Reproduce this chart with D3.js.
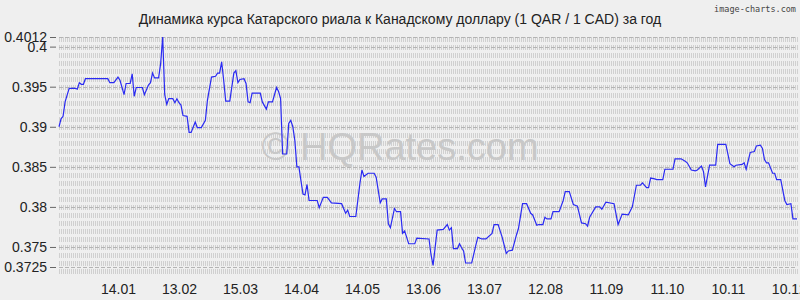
<!DOCTYPE html>
<html>
<head>
<meta charset="utf-8">
<script src="https://cdn.jsdelivr.net/npm/d3@7"></script>
<style>
  body { margin: 0; background: #efefef; }
  svg { display: block; }
</style>
</head>
<body>
<svg id="chart" width="800" height="300"></svg>
<script>
// QAR / CAD, one year
const dates = [
  '2024-12-16','2024-12-17','2024-12-18','2024-12-19','2024-12-21','2024-12-24','2024-12-25','2024-12-26','2024-12-27','2024-12-28',
  '2024-12-29','2025-01-09','2025-01-10','2025-01-12','2025-01-14','2025-01-15','2025-01-17','2025-01-18','2025-01-20','2025-01-21',
  '2025-01-22','2025-01-23','2025-01-26','2025-01-27','2025-01-29','2025-01-30','2025-01-31','2025-02-01','2025-02-03','2025-02-04',
  '2025-02-05','2025-02-06','2025-02-07','2025-02-08','2025-02-10','2025-02-11','2025-02-12','2025-02-13','2025-02-14','2025-02-15',
  '2025-02-17','2025-02-18','2025-02-19','2025-02-21','2025-02-22','2025-02-24','2025-02-26','2025-02-27','2025-03-01','2025-03-03',
  '2025-03-04','2025-03-05','2025-03-06','2025-03-07','2025-03-08','2025-03-10','2025-03-12','2025-03-13','2025-03-14','2025-03-15',
  '2025-03-17','2025-03-18','2025-03-19','2025-03-20','2025-03-21','2025-03-25','2025-03-26','2025-03-28','2025-03-29','2025-03-31',
  '2025-04-02','2025-04-03','2025-04-04','2025-04-05','2025-04-07','2025-04-08','2025-04-09','2025-04-10','2025-04-11','2025-04-12',
  '2025-04-13','2025-04-15','2025-04-16','2025-04-17','2025-04-18','2025-04-22','2025-04-23','2025-04-25','2025-04-27','2025-04-29',
  '2025-05-04','2025-05-06','2025-05-07','2025-05-08','2025-05-11','2025-05-13','2025-05-14','2025-05-15','2025-05-17','2025-05-20',
  '2025-05-21','2025-05-23','2025-05-24','2025-05-26','2025-05-27','2025-05-28','2025-05-30','2025-05-31','2025-06-02','2025-06-03',
  '2025-06-04','2025-06-06','2025-06-09','2025-06-10','2025-06-16','2025-06-17','2025-06-18','2025-06-20','2025-06-23','2025-06-25',
  '2025-06-26','2025-06-27','2025-06-28','2025-06-30','2025-07-01','2025-07-02','2025-07-03','2025-07-04','2025-07-07','2025-07-09',
  '2025-07-10','2025-07-12','2025-07-14','2025-07-17','2025-07-18','2025-07-20','2025-07-22','2025-07-24','2025-07-25','2025-07-27',
  '2025-07-29','2025-07-30','2025-08-01','2025-08-03','2025-08-05','2025-08-06','2025-08-08','2025-08-09','2025-08-11','2025-08-12',
  '2025-08-13','2025-08-15','2025-08-16','2025-08-19','2025-08-21','2025-08-22','2025-08-24','2025-08-26','2025-08-28','2025-08-30',
  '2025-09-01','2025-09-02','2025-09-03','2025-09-06','2025-09-08','2025-09-09','2025-09-11','2025-09-15','2025-09-17','2025-09-19',
  '2025-09-22','2025-09-24','2025-09-26','2025-09-28','2025-09-29','2025-10-01','2025-10-02','2025-10-03','2025-10-05','2025-10-06',
  '2025-10-09','2025-10-10','2025-10-14','2025-10-15','2025-10-18','2025-10-20','2025-10-21','2025-10-23','2025-10-25','2025-10-26',
  '2025-10-28','2025-10-29','2025-10-30','2025-11-01','2025-11-04','2025-11-05','2025-11-09','2025-11-11','2025-11-13','2025-11-14',
  '2025-11-17','2025-11-18','2025-11-19','2025-11-21','2025-11-23','2025-11-24','2025-11-26','2025-11-27','2025-11-28','2025-11-29',
  '2025-11-30','2025-12-02','2025-12-03','2025-12-04','2025-12-06','2025-12-08','2025-12-09','2025-12-11','2025-12-12','2025-12-14'
];
const rates = [
  0.3900,0.3910,0.3913,0.3931,0.3948,0.3948,0.3947,0.3955,0.3953,0.3953,
  0.3960,0.3960,0.3955,0.3955,0.3962,0.3958,0.3940,0.3954,0.3954,0.3966,
  0.3938,0.3949,0.3949,0.3940,0.3952,0.3955,0.3967,0.3961,0.3961,0.3979,
  0.4012,0.3940,0.3928,0.3935,0.3935,0.3930,0.3935,0.3930,0.3927,0.3914,
  0.3913,0.3893,0.3893,0.3906,0.3899,0.3899,0.3908,0.3933,0.3962,0.3963,
  0.3967,0.3967,0.3981,0.3958,0.3932,0.3932,0.3967,0.3970,0.3955,0.3959,
  0.3960,0.3954,0.3931,0.3930,0.3942,0.3942,0.3931,0.3922,0.3931,0.3931,
  0.3949,0.3944,0.3935,0.3866,0.3866,0.3904,0.3908,0.3900,0.3883,0.3850,
  0.3850,0.3816,0.3815,0.3828,0.3808,0.3808,0.3799,0.3812,0.3812,0.3805,
  0.3804,0.3792,0.3796,0.3788,0.3788,0.3829,0.3846,0.3838,0.3842,0.3842,
  0.3837,0.3805,0.3810,0.3810,0.3779,0.3774,0.3798,0.3794,0.3794,0.3767,
  0.3770,0.3754,0.3754,0.3761,0.3760,0.3740,0.3727,0.3771,0.3772,0.3778,
  0.3771,0.3774,0.3748,0.3748,0.3754,0.3749,0.3745,0.3730,0.3730,0.3752,
  0.3762,0.3760,0.3760,0.3767,0.3778,0.3778,0.3762,0.3742,0.3745,0.3746,
  0.3765,0.3773,0.3804,0.3804,0.3792,0.3790,0.3777,0.3778,0.3778,0.3787,
  0.3785,0.3785,0.3794,0.3794,0.3808,0.3819,0.3819,0.3803,0.3801,0.3780,
  0.3779,0.3776,0.3787,0.3800,0.3800,0.3797,0.3806,0.3804,0.3778,0.3791,
  0.3790,0.3800,0.3827,0.3827,0.3830,0.3824,0.3824,0.3836,0.3835,0.3834,
  0.3834,0.3847,0.3847,0.3860,0.3860,0.3857,0.3855,0.3846,0.3845,0.3846,
  0.3851,0.3844,0.3825,0.3852,0.3852,0.3878,0.3878,0.3854,0.3850,0.3852,
  0.3853,0.3855,0.3847,0.3868,0.3869,0.3876,0.3877,0.3873,0.3859,0.3855,
  0.3855,0.3842,0.3842,0.3834,0.3834,0.3808,0.3803,0.3804,0.3785,0.3785
];
const xTickDates = ['2025-01-14','2025-02-13','2025-03-15','2025-04-14','2025-05-14','2025-06-13',
  '2025-07-13','2025-08-12','2025-09-11','2025-10-11','2025-11-10','2025-12-10'];
const yTickValues = [0.3725, 0.375, 0.38, 0.385, 0.39, 0.395, 0.4, 0.4012];
const yMin = 0.3725, yMax = 0.4012;
const startDate = '2024-12-16', endDate = '2025-12-14';

const title = 'Динамика курса Катарского риала к Канадскому доллару (1 QAR / 1 CAD) за год';

const parse = d3.timeParse('%Y-%m-%d');
const fmt = d3.timeFormat('%d.%m');

const margin = {top: 37, right: 3, bottom: 33, left: 59},
  width = 800 - margin.left - margin.right,
  height = 300 - margin.top - margin.bottom;

const x = d3.scaleTime().domain([parse(startDate), parse(endDate)]).range([margin.left, margin.left + width]);
const y = d3.scaleLinear().domain([yMin, yMax]).range([margin.top + height, margin.top]);

const svg = d3.select('#chart');
const font = '"Liberation Sans", Arial, sans-serif';

svg.append('rect').attr('width', 800).attr('height', 300).attr('fill', '#efefef');

// dense dashed grid
const grid = svg.append('g');
grid.selectAll('line.v')
  .data(d3.range(margin.left, margin.left + width + 1, 2))
  .join('line')
  .attr('x1', d => d + 0.5).attr('x2', d => d + 0.5)
  .attr('y1', margin.top).attr('y2', margin.top + height + 10)
  .attr('stroke', '#d0d0d0')
  .attr('stroke-width', 1)
  .attr('stroke-dasharray', '5,3');

grid.selectAll('line.h')
  .data(yTickValues)
  .join('line')
  .attr('x1', margin.left).attr('x2', margin.left + width)
  .attr('y1', d => Math.round(y(d)) + 0.5).attr('y2', d => Math.round(y(d)) + 0.5)
  .attr('stroke', '#b4b4b4')
  .attr('stroke-dasharray', '4,2');

// watermark
svg.append('text')
  .attr('x', 400).attr('y', 160)
  .attr('text-anchor', 'middle')
  .attr('font-family', font)
  .attr('font-size', 38)
  .attr('fill', '#c8c8c8')
  .text('© HQRates.com');

// y axis
const yAxis = svg.append('g')
  .attr('transform', `translate(${margin.left - 3},0)`)
  .call(d3.axisLeft(y).tickValues(yTickValues).tickFormat(d => String(d)).tickSize(6).tickPadding(3));
yAxis.select('.domain').remove();
yAxis.selectAll('line').attr('stroke', '#666');
yAxis.selectAll('text').attr('font-family', font).attr('font-size', 14).attr('fill', '#222');

// x axis
const xAxis = svg.append('g')
  .attr('transform', `translate(0,${margin.top + height + 9})`)
  .call(d3.axisBottom(x).tickValues(xTickDates.map(parse)).tickFormat(fmt).tickSize(0).tickPadding(8));
xAxis.select('.domain').remove();
xAxis.selectAll('text').attr('font-family', font).attr('font-size', 14).attr('fill', '#222');

// the rate line
const line = d3.line()
  .x((d, i) => x(parse(dates[i])))
  .y(d => y(d));

svg.append('path')
  .datum(rates)
  .attr('fill', 'none')
  .attr('stroke', '#2a2af2')
  .attr('stroke-width', 1.2)
  .attr('d', line);

// title
svg.append('text')
  .attr('x', 400).attr('y', 24)
  .attr('text-anchor', 'middle')
  .attr('font-family', font)
  .attr('font-size', 14)
  .attr('fill', '#222')
  .text(title);

svg.append('text')
  .attr('x', 796).attr('y', 12)
  .attr('text-anchor', 'end')
  .attr('font-family', '"DejaVu Sans Mono", monospace')
  .attr('font-size', 8.5)
  .attr('fill', '#444')
  .text('image-charts.com');
</script>
</body>
</html>
